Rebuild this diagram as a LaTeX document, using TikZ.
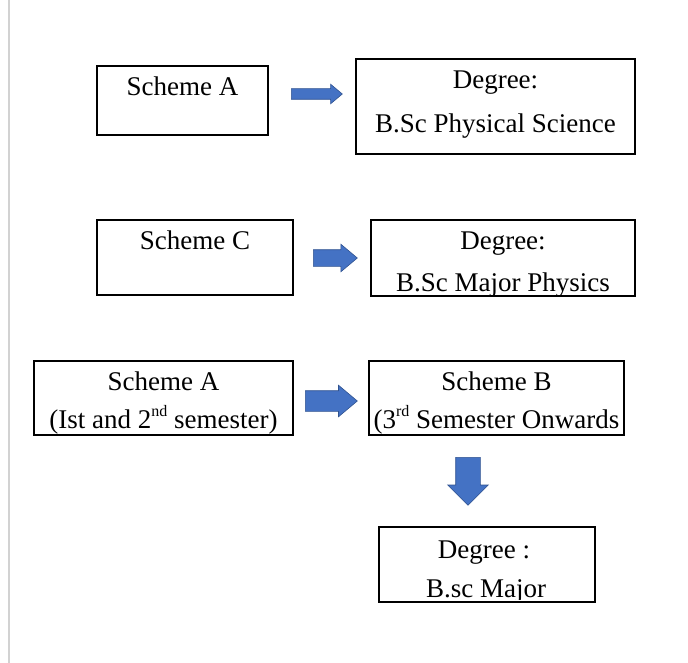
\documentclass[tikz,border=0pt]{standalone}
\usepackage{fontspec}
\setmainfont{Liberation Serif}
\usetikzlibrary{shapes.arrows}
\definecolor{arrowblue}{HTML}{4472C4}
\definecolor{arrowline}{HTML}{2F528F}
\newcommand{\supx}[1]{\raisebox{0.42em}{\fontsize{16}{16}\selectfont #1}}
\tikzset{
x=1pt, y=-1pt, % pixel-like units, y grows downwards
box/.style={draw, line width=1.1pt, rectangle, inner sep=0pt}, % the scheme and degree boxes
txt/.style={anchor=base, inner sep=0pt, font=\fontsize{27}{30}\selectfont}, % text inside the boxes
blk/.style={single arrow, draw=arrowline, fill=arrowblue, line width=0.6pt, inner xsep=0pt, single arrow tip angle=80, anchor=tail}, % block arrows
}
\begin{document}
\begin{tikzpicture}
      \useasboundingbox (0,0) rectangle (688,663);
      \draw[gray!35, line width=1.5pt] (9,0) -- (9,663);
      % boxes
      \node[box, minimum width=171pt, minimum height=69pt] (schA) at (182.5,100.5) {};
      \node[box, minimum width=279pt, minimum height=95pt] (degA) at (495.5,106.5) {};
      \node[box, minimum width=196pt, minimum height=75pt] (schC) at (195,257.5) {};
      \node[box, minimum width=264pt, minimum height=76pt] (degC) at (503,258) {};
      \node[box, minimum width=259pt, minimum height=74pt] (schAA) at (163.5,398) {};
      \node[box, minimum width=255pt, minimum height=74pt] (schB) at (496.5,398) {};
      \node[box, minimum width=216pt, minimum height=75pt] (degB) at (487,564.5) {};
      % texts
      \node[txt] (schA-t) at (schA |- 0,96) {Scheme A};
      \node[txt] (degA-t1) at (degA |- 0,89) {Degree:};
      \node[txt] (degA-t2) at (degA |- 0,133) {B.Sc Physical Science};
      \node[txt] (schC-t) at (schC |- 0,250) {Scheme C};
      \node[txt] (degC-t1) at (degC |- 0,250) {Degree:};
      \begin{scope}
        \clip (degC.north west) rectangle (degC.south east);
        \node[txt] (degC-t2) at (degC |- 0,291) {B.Sc Major Physics};
      \end{scope}
      \node[txt] (schAA-t1) at (schAA |- 0,390) {Scheme A};
      \node[txt] (schAA-t2) at (schAA |- 0,428) {(Ist and 2\supx{nd} semester)};
      \node[txt] (schB-t1) at (schB |- 0,390) {Scheme B};
      \node[txt] (schB-t2) at (schB |- 0,428) {(3\supx{rd} Semester Onwards};
      \node[txt] (degB-t1) at (484,558) {Degree :};
      \begin{scope}
        \clip (degB.north west) rectangle (degB.east |- 0,599);
        \node[txt] (degB-t2) at (486,597) {B.sc Major};
      \end{scope}
      % block arrows
      \node[blk, inner ysep=5pt, single arrow head extend=4.5pt, minimum height=51pt] (arrA) at (291,94) {};
      \node[blk, inner ysep=8pt, single arrow head extend=5.5pt, minimum height=44pt] (arrC) at (313,258) {};
      \node[blk, inner ysep=10pt, single arrow head extend=5.5pt, minimum height=52pt] (arrAB) at (305,401) {};
      \node[blk, inner ysep=12pt, single arrow head extend=8pt, minimum height=48pt, single arrow tip angle=90, rotate=-90] (arrB) at (468,457) {};
    \end{tikzpicture}
\end{document}
